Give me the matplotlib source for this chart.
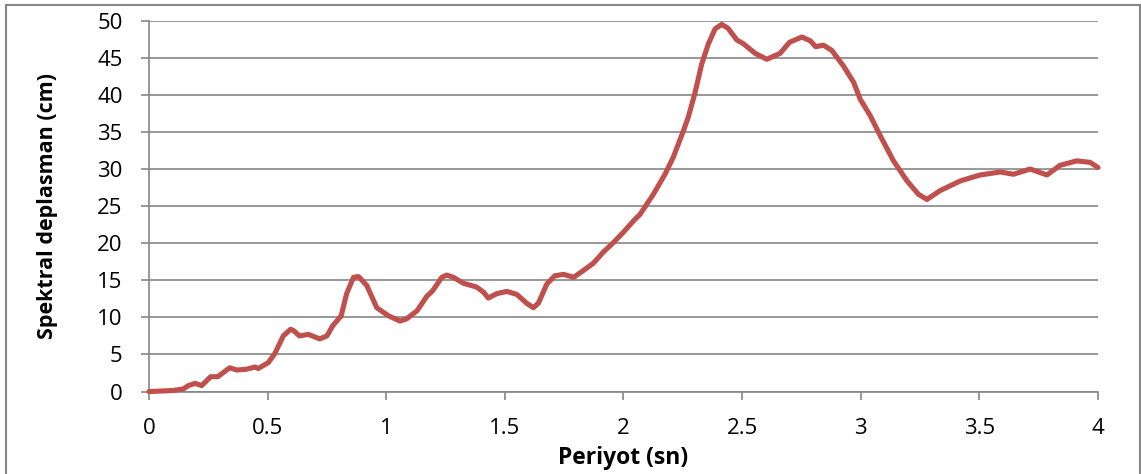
import numpy as np
import matplotlib.pyplot as plt
from matplotlib.patches import Rectangle

# ----------------------------
# Data
# ----------------------------
PERIOD = [
    0.00, 0.10, 0.145, 0.166, 0.194, 0.222, 0.26, 0.29, 0.34, 0.37,
    0.41, 0.447, 0.46, 0.503, 0.53, 0.566, 0.597, 0.61, 0.634, 0.672,
    0.72, 0.75, 0.775, 0.81, 0.833, 0.862, 0.883, 0.918, 0.96, 1.01,
    1.058, 1.086, 1.13, 1.17, 1.196, 1.234, 1.255, 1.283, 1.325, 1.38,
    1.41, 1.43, 1.466, 1.508, 1.55, 1.592, 1.62, 1.641, 1.677, 1.71,
    1.747, 1.79, 1.83, 1.873, 1.915, 1.958, 2.00, 2.042, 2.07, 2.126,
    2.175, 2.21, 2.253, 2.273, 2.30, 2.33, 2.358, 2.386, 2.414, 2.44,
    2.478, 2.505, 2.555, 2.604, 2.66, 2.70, 2.752, 2.787, 2.81, 2.843,
    2.878, 2.927, 2.97, 2.998, 3.04, 3.082, 3.138, 3.195, 3.243, 3.279,
    3.335, 3.42, 3.503, 3.588, 3.644, 3.714, 3.785, 3.84, 3.91, 3.967,
    4.00,
]
SD_CM = [
    0.0, 0.13, 0.36, 0.8, 1.1, 0.8, 2.0, 2.0, 3.2, 2.9,
    3.0, 3.3, 3.1, 3.9, 5.1, 7.5, 8.4, 8.2, 7.5, 7.7,
    7.1, 7.5, 8.9, 10.2, 13.2, 15.4, 15.5, 14.3, 11.3, 10.2,
    9.5, 9.8, 10.9, 12.8, 13.6, 15.4, 15.7, 15.4, 14.6, 14.1,
    13.4, 12.6, 13.2, 13.5, 13.1, 11.9, 11.3, 11.9, 14.5, 15.6,
    15.8, 15.4, 16.3, 17.3, 18.8, 20.1, 21.5, 23.0, 23.9, 26.6,
    29.3, 31.6, 35.2, 37.0, 40.1, 44.2, 46.9, 48.9, 49.5, 49.0,
    47.4, 46.9, 45.6, 44.8, 45.6, 47.1, 47.8, 47.3, 46.5, 46.7,
    46.0, 43.9, 41.7, 39.4, 37.2, 34.5, 31.1, 28.4, 26.6, 25.9,
    27.1, 28.4, 29.2, 29.6, 29.3, 30.0, 29.2, 30.5, 31.1, 30.9,
    30.2,
]
X_TICKS = [0, 0.5, 1, 1.5, 2, 2.5, 3, 3.5, 4]
X_TICK_LABELS = ["0", "0.5", "1", "1.5", "2", "2.5", "3", "3.5", "4"]
Y_TICKS = list(range(0, 55, 5))

plt.rcParams.update({
    "font.family": ["Open Sans", "DejaVu Sans"],
    "font.size": 14,
})

AXIS_GREY = "#868686"
LINE_RED = "#C0504D"

fig = plt.figure(figsize=(11.41, 4.74), dpi=100)
ax = fig.add_axes([0.1306, 0.174, 0.8317, 0.7823])

# outer chart border (Excel-style frame)
fig.patches.append(Rectangle((6 / 1141, -0.01), 1134 / 1141, 1 - 4.5 / 474 + 0.01,
                             transform=fig.transFigure, fill=False,
                             edgecolor=AXIS_GREY, linewidth=1.5))

ax.plot(PERIOD, SD_CM, color=LINE_RED, linewidth=3.7,
        solid_joinstyle="round", solid_capstyle="round", zorder=3, clip_on=False)

ax.set_xlim(0, 4)
ax.set_ylim(0, 50)
ax.set_xticks(X_TICKS)
ax.set_xticklabels(X_TICK_LABELS)
ax.set_yticks(Y_TICKS)

ax.grid(axis="y", color=AXIS_GREY, linewidth=1.2)
ax.set_axisbelow(True)

for side in ("top", "right"):
    ax.spines[side].set_visible(False)
for side in ("left", "bottom"):
    ax.spines[side].set_color(AXIS_GREY)
    ax.spines[side].set_linewidth(1.2)

ax.tick_params(axis="both", colors=AXIS_GREY, labelcolor="black",
               length=6, width=1.2, labelsize=16)
ax.tick_params(axis="x", pad=13)
ax.tick_params(axis="y", pad=13)

ax.set_xlabel("Periyot (sn)", fontweight="bold", fontsize=16.5)
ax.set_ylabel("Spektral deplasman (cm)", fontweight="bold", fontsize=15.5)
ax.xaxis.set_label_coords(0.5, -0.179)
ax.yaxis.set_label_coords(-0.1075, 0.5)
ax.xaxis.label.set_va("center")
ax.yaxis.label.set_va("center")

fig.savefig("out.png", dpi=100)
